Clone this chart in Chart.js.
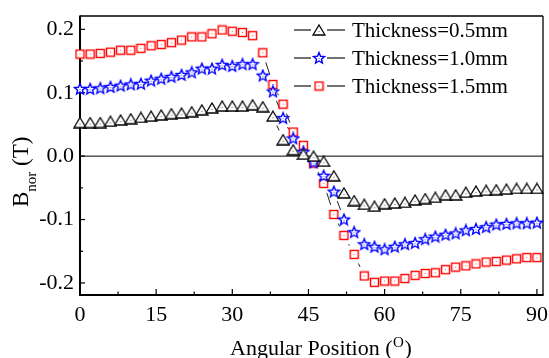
<!DOCTYPE html>
<html>
<head>
<meta charset="utf-8">
<script src="https://cdn.jsdelivr.net/npm/chart.js@4.4.1/dist/chart.umd.min.js"></script>
<style>
  html, body { margin: 0; padding: 0; background: #fff; }
  #wrap { width: 549px; height: 358px; }
</style>
</head>
<body>
<div id="wrap"><canvas id="chart" width="549" height="358"></canvas></div>
<script>
// data (degrees, Tesla)
const angles = [0, 2, 4, 6, 8, 10, 12, 14, 16, 18, 20, 22, 24, 26, 28, 30, 32, 34, 36, 38, 40, 42, 44,
  46, 48, 50, 52, 54, 56, 58, 60, 62, 64, 66, 68, 70, 72, 74, 76, 78, 80, 82, 84, 86, 88, 90];
const thick05 = [0.053, 0.053, 0.053, 0.055, 0.057, 0.059, 0.061, 0.063, 0.065, 0.067, 0.068, 0.070,
  0.073, 0.076, 0.079, 0.079, 0.079, 0.081, 0.078, 0.063, 0.026, 0.010, 0.003, 0.000, -0.008, -0.031,
  -0.058, -0.070, -0.076, -0.079, -0.075, -0.074, -0.073, -0.069, -0.067, -0.065, -0.061, -0.061,
  -0.057, -0.055, -0.054, -0.053, -0.052, -0.051, -0.051, -0.051];
const thick10 = [0.106, 0.106, 0.107, 0.109, 0.111, 0.113, 0.114, 0.119, 0.122, 0.125, 0.128, 0.132,
  0.138, 0.138, 0.144, 0.142, 0.145, 0.145, 0.127, 0.102, 0.060, 0.028, 0.007, -0.010, -0.031, -0.056,
  -0.100, -0.120, -0.139, -0.143, -0.147, -0.143, -0.139, -0.137, -0.131, -0.127, -0.124, -0.122,
  -0.117, -0.115, -0.112, -0.108, -0.107, -0.106, -0.106, -0.105];
const thick15 = [0.161, 0.161, 0.162, 0.164, 0.167, 0.167, 0.170, 0.174, 0.176, 0.179, 0.183, 0.188,
  0.188, 0.193, 0.199, 0.197, 0.195, 0.190, 0.163, 0.113, 0.082, 0.038, 0.017, -0.011, -0.043, -0.092,
  -0.125, -0.155, -0.189, -0.199, -0.197, -0.197, -0.193, -0.188, -0.185, -0.184, -0.179, -0.175,
  -0.173, -0.170, -0.167, -0.166, -0.164, -0.162, -0.160, -0.160];
const seriesLabels = ["Thickness=0.5mm", "Thickness=1.0mm", "Thickness=1.5mm"];
const xTicks = [0, 15, 30, 45, 60, 75, 90];
const yTicks = [-0.2, -0.1, 0.0, 0.1, 0.2];

const SERIF = '"Liberation Serif", "DejaVu Serif", serif';

// Origin-style hollow markers with a dot in the middle
function makeMarker(kind) {
  const c = document.createElement("canvas");
  const g = c.getContext("2d");
  if (kind === "triangle") {
    c.width = 14; c.height = 12;
    g.beginPath();
    g.moveTo(7, 1); g.lineTo(13, 11); g.lineTo(1, 11); g.closePath();
    g.fillStyle = "#fff"; g.fill();
    g.strokeStyle = "#000"; g.lineWidth = 1.3; g.stroke();
    g.fillStyle = "#555"; g.fillRect(6.5, 7, 1, 1);
  } else if (kind === "star") {
    c.width = 14; c.height = 14;
    g.beginPath();
    for (let k = 0; k < 10; k++) {
      const r = k % 2 ? 2.6 : 5.8;
      const a = -Math.PI / 2 + k * Math.PI / 5;
      const px = 7 + r * Math.cos(a), py = 7.4 + r * Math.sin(a);
      k ? g.lineTo(px, py) : g.moveTo(px, py);
    }
    g.closePath();
    g.fillStyle = "#fff"; g.fill();
    g.strokeStyle = "#0000ff"; g.lineWidth = 1.4; g.stroke();
    g.fillStyle = "#5555ff"; g.fillRect(6.5, 7, 1, 1);
  } else {
    c.width = 11; c.height = 11;
    g.fillStyle = "#fff"; g.fillRect(1.5, 1.5, 8, 8);
    g.strokeStyle = "#ff0000"; g.lineWidth = 1.4; g.strokeRect(1.5, 1.5, 8, 8);
    g.fillStyle = "#ff5555"; g.fillRect(5, 5, 1, 1);
  }
  return c;
}
const markers = [makeMarker("triangle"), makeMarker("star"), makeMarker("square")];
const seriesValues = [thick05, thick10, thick15];

const decor = {
  id: "decor",
  beforeDatasetsDraw(chart) {
    const { ctx, chartArea: a, scales: { x, y } } = chart;
    ctx.save();
    ctx.strokeStyle = "#000";
    const seg = (x1, y1, x2, y2) => { ctx.beginPath(); ctx.moveTo(x1, y1); ctx.lineTo(x2, y2); ctx.stroke(); };

    // zero line
    ctx.lineWidth = 1;
    const y0 = y.getPixelForValue(0);
    seg(a.left, y0, a.right, y0);

    // inward ticks
    ctx.lineWidth = 1.2;
    xTicks.forEach((v, i) => {
      const px = x.getPixelForValue(v);
      seg(px, a.bottom, px, a.bottom - 6);
      if (i < xTicks.length - 1) {
        const mx = x.getPixelForValue((v + xTicks[i + 1]) / 2);
        seg(mx, a.bottom, mx, a.bottom - 3.5);
      }
    });
    yTicks.forEach((v, i) => {
      const py = y.getPixelForValue(v);
      seg(a.left, py, a.left + 5, py);
      if (i < yTicks.length - 1) {
        const my = y.getPixelForValue((v + yTicks[i + 1]) / 2);
        seg(a.left, my, a.left + 3, my);
      }
    });

    // frame
    ctx.lineWidth = 1.3;
    seg(a.left, a.top, a.right, a.top);
    seg(a.right, a.top, a.right, a.bottom);
    ctx.lineWidth = 2;
    seg(a.left, a.top - 0.6, a.left, a.bottom + 1);
    seg(a.left - 1, a.bottom, a.right + 0.6, a.bottom);

    // connecting lines, with a gap round each symbol
    ctx.strokeStyle = "#222";
    ctx.lineWidth = 1;
    const gap = 10;
    chart.data.datasets.forEach((ds, i) => {
      const pts = chart.getDatasetMeta(i).data;
      for (let k = 1; k < pts.length; k++) {
        const p0 = pts[k - 1], p1 = pts[k];
        const dx = p1.x - p0.x, dy = p1.y - p0.y, len = Math.hypot(dx, dy);
        if (len <= 2 * gap + 0.5) continue;
        const ux = dx / len, uy = dy / len;
        seg(p0.x + ux * gap, p0.y + uy * gap, p1.x - ux * gap, p1.y - uy * gap);
      }
    });
    ctx.restore();
  },
  afterDraw(chart) {
    const { ctx } = chart;
    ctx.save();
    ctx.fillStyle = "#000";

    // legend
    seriesLabels.forEach((label, i) => {
      const yc = 30 + i * 28;
      ctx.strokeStyle = "#444";
      ctx.lineWidth = 1.5;
      ctx.beginPath();
      ctx.moveTo(294, yc); ctx.lineTo(311, yc);
      ctx.moveTo(327, yc); ctx.lineTo(345, yc);
      ctx.stroke();
      const m = markers[i];
      ctx.drawImage(m, 319 - m.width / 2, yc - m.height / 2);
      ctx.font = "21px " + SERIF;
      ctx.textBaseline = "alphabetic";
      ctx.fillText(label, 352, yc + 7);
    });

    // x title with superscript o
    ctx.font = "22px " + SERIF;
    let tx = 230;
    const base = 355;
    ctx.fillText("Angular Position (", tx, base);
    tx += ctx.measureText("Angular Position (").width;
    ctx.font = "15px " + SERIF;
    ctx.fillText("O", tx + 0.5, base - 8);
    tx += ctx.measureText("O").width + 1;
    ctx.font = "22px " + SERIF;
    ctx.fillText(")", tx, base);

    // y title, B with subscript nor
    ctx.translate(28, 207);
    ctx.rotate(-Math.PI / 2);
    ctx.font = "23px " + SERIF;
    ctx.fillText("B", 0, 0);
    let ty = ctx.measureText("B").width;
    ctx.font = "15px " + SERIF;
    ctx.fillText("nor", ty, 8);
    ty += ctx.measureText("nor").width;
    ctx.font = "23px " + SERIF;
    ctx.fillText(" (T)", ty, 0);
    ctx.restore();
  }
};

const datasets = seriesValues.map((vals, i) => ({
  label: seriesLabels[i],
  data: angles.map((a, k) => ({ x: a, y: vals[k] })),
  pointStyle: markers[i],
  showLine: false,
  clip: false
}));

new Chart(document.getElementById("chart"), {
  type: "scatter",
  data: { datasets },
  options: {
    responsive: false,
    devicePixelRatio: 1,
    animation: false,
    events: [],
    layout: { padding: { top: 16, right: 6, left: 0, bottom: 0 } },
    plugins: { legend: { display: false }, tooltip: { enabled: false } },
    scales: {
      x: {
        type: "linear",
        min: 0,
        max: 91.2,
        afterBuildTicks: (s) => { s.ticks = xTicks.map((v) => ({ value: v })); },
        afterFit: (s) => { s.height = 63; s.paddingLeft = 0; s.paddingRight = 0; },
        grid: { display: false, drawTicks: false },
        border: { display: false },
        ticks: { color: "#000", padding: 7, maxRotation: 0, font: { family: SERIF, size: 22 } }
      },
      y: {
        type: "linear",
        min: -0.219,
        max: 0.221,
        afterBuildTicks: (s) => { s.ticks = yTicks.map((v) => ({ value: v })); },
        afterFit: (s) => { s.width = 80; s.paddingTop = 0; s.paddingBottom = 0; },
        grid: { display: false, drawTicks: false },
        border: { display: false },
        ticks: {
          color: "#000",
          padding: 6,
          font: { family: SERIF, size: 22 },
          callback: (v) => Number(v).toFixed(1)
        }
      }
    }
  },
  plugins: [decor]
});
</script>
</body>
</html>
